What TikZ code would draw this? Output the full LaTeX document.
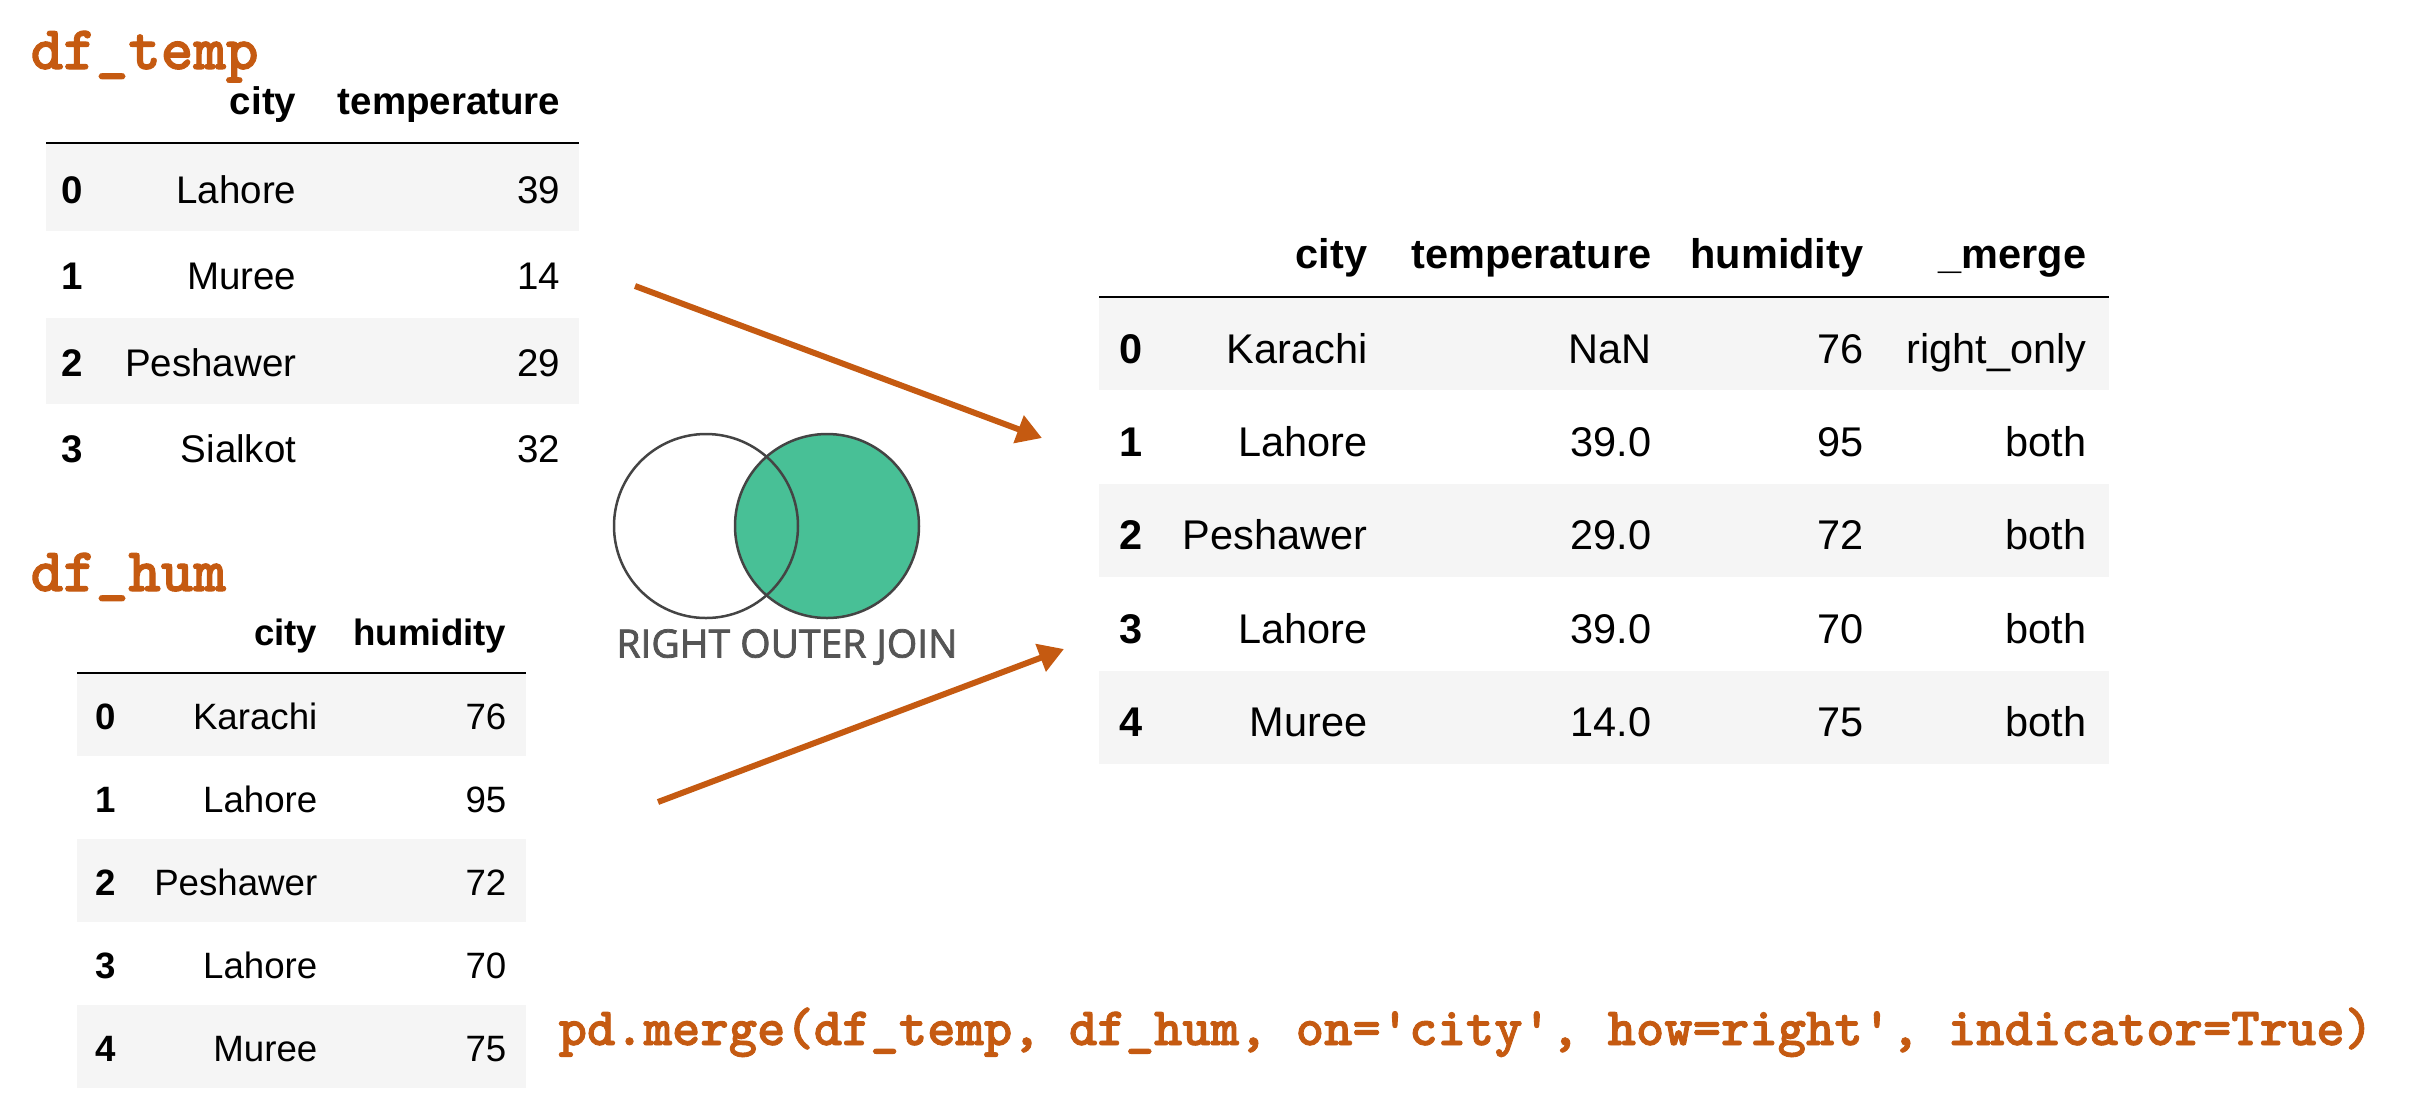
\documentclass[tikz,border=0pt]{standalone}
\usepackage{fontspec}
\setmainfont{Liberation Sans}
\newfontfamily\codefont[BoldFeatures={FakeBold=1.6}]{Latin Modern Mono Light}
\newfontfamily\vennfont[FakeBold=2]{Open Sans}
\usetikzlibrary{arrows.meta}
\definecolor{codeorange}{RGB}{197,90,17}
\definecolor{rowgray}{RGB}{245,245,245}
\definecolor{venngreen}{RGB}{72,192,150}
\definecolor{venngray}{RGB}{68,68,68}
\definecolor{labelgray}{RGB}{85,85,85}
\begin{document}
\begin{tikzpicture}[x=0.3pt,y=-0.3pt,
  dftitle/.style={anchor=base west, inner sep=0pt, text=codeorange,
    font=\codefont\bfseries\fontsize{18.6}{20}\selectfont},
  codeline/.style={anchor=base west, inner sep=0pt, text=codeorange,
    font=\codefont\bfseries\fontsize{16.2}{18}\selectfont},
  cellR/.style={anchor=base east, inner sep=0pt},
  hdrR/.style={anchor=base east, inner sep=0pt, execute at begin node=\bfseries},
  idx/.style={anchor=base west, inner sep=0pt, execute at begin node=\bfseries},
  headrule/.style={line width=0.7pt, black},
  band/.style={fill=rowgray},
  flow/.style={draw=codeorange, line width=1.8pt,
    -{Triangle[length=7.5pt, width=8.5pt]}},
  venn/.style={circle, draw=venngray, line width=0.75pt, minimum size=55.2pt, inner sep=0pt}
]
\useasboundingbox (0,0) rectangle (2410,1112);

% ---------- df_temp ----------
\node[dftitle] (titletemp) at (30,69) {df\_temp};
\begin{scope}[font=\fontsize{11.55}{13}\selectfont]
  \fill[band] (46,143) rectangle (579,231);
  \fill[band] (46,318) rectangle (579,404);
  \draw[headrule] (46,143) -- (579,143);
  \node[hdrR] (temphcity) at (297,114) {city};
  \node[hdrR] (temphtemp) at (561,114) {temperature};
  \foreach \i/\c/\v in {0/Lahore/39, 1/Muree/14, 2/Peshawer/29, 3/Sialkot/32}{
    \node[idx] (tempi\i) at (61,{203+86.6*\i}) {\i};
    \node[cellR] (tempc\i) at (297,{203+86.6*\i}) {\c};
    \node[cellR] (tempv\i) at (561,{203+86.6*\i}) {\v};
  }
\end{scope}

% ---------- df_hum ----------
\node[dftitle] (titlehum) at (30,591) {df\_hum};
\begin{scope}[font=\fontsize{11.0}{13}\selectfont]
  \fill[band] (77,673) rectangle (526,756);
  \fill[band] (77,839) rectangle (526,922);
  \fill[band] (77,1005) rectangle (526,1088);
  \draw[headrule] (77,673) -- (526,673);
  \node[hdrR] (humhcity) at (318,645) {city};
  \node[hdrR] (humhhum) at (507,645) {humidity};
  \foreach \i/\c/\v in {0/Karachi/76, 1/Lahore/95, 2/Peshawer/72, 3/Lahore/70, 4/Muree/75}{
    \node[idx] (humi\i) at (95,{729+83*\i}) {\i};
    \node[cellR] (humc\i) at (318,{729+83*\i}) {\c};
    \node[cellR] (humv\i) at (507,{729+83*\i}) {\v};
  }
\end{scope}

% ---------- merged result ----------
\begin{scope}[font=\fontsize{12.45}{14}\selectfont]
  \fill[band] (1099,297) rectangle (2109,390.4);
  \fill[band] (1099,483.8) rectangle (2109,577.2);
  \fill[band] (1099,670.6) rectangle (2109,764);
  \draw[headrule] (1099,297) -- (2109,297);
  \node[hdrR] (reshcity) at (1368,268) {city};
  \node[hdrR] (reshtemp) at (1652,268) {temperature};
  \node[hdrR] (reshhum) at (1864,268) {humidity};
  \node[hdrR] (reshmerge) at (2087,268) {\_merge};
  \foreach \i/\c/\t/\h/\m in {0/Karachi/NaN/76/right\_only, 1/Lahore/39.0/95/both,
      2/Peshawer/29.0/72/both, 3/Lahore/39.0/70/both, 4/Muree/14.0/75/both}{
    \node[idx] (resi\i) at (1119,{363+93.4*\i}) {\i};
    \node[cellR] (resc\i) at (1368,{363+93.4*\i}) {\c};
    \node[cellR] (rest\i) at (1652,{363+93.4*\i}) {\t};
    \node[cellR] (resh\i) at (1864,{363+93.4*\i}) {\h};
    \node[cellR] (resm\i) at (2087,{363+93.4*\i}) {\m};
  }
\end{scope}

% ---------- Venn diagram of the join ----------
\node[venn, fill=venngreen] (vennright) at (827,526) {};
\node[venn] (vennleft) at (706,526) {};
\node[inner sep=0pt, text=labelgray, font=\vennfont\fontsize{11.7}{13}\selectfont]
  (joinlabel) at (787,647) {RIGHT OUTER JOIN};

% ---------- arrows into the result ----------
\coordinate (tempout) at (635,286);
\coordinate (resin1) at (1042,438);
\coordinate (humout) at (658,802);
\coordinate (resin2) at (1064,649);
\draw[flow] (tempout) -- (resin1);
\draw[flow] (humout) -- (resin2);

% ---------- call ----------
\node[codeline] (mergecall) at (558,1045)
  {pd.merge(df\_temp, df\_hum, on='city', how=right', indicator=True)};
\end{tikzpicture}
\end{document}
